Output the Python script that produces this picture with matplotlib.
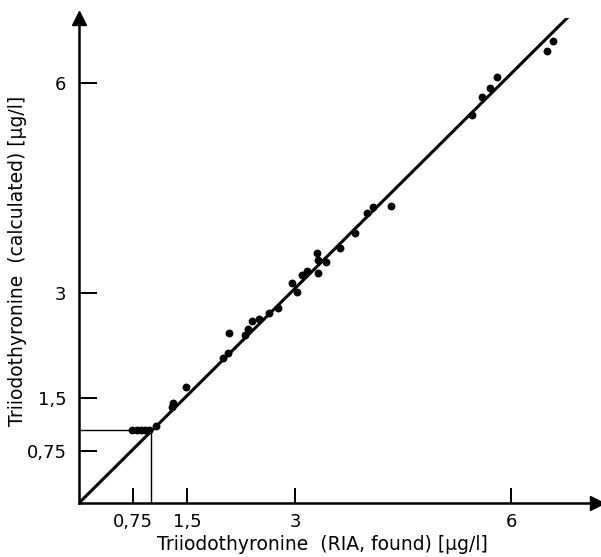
import matplotlib
matplotlib.use("Agg")
import matplotlib.pyplot as plt

# RIA found vs calculated triiodothyronine, ug/l
ria_found = [0.74, 0.81, 0.86, 0.92, 0.97, 1.07, 1.29, 1.31, 1.49,
             2.0, 2.07, 2.08, 2.31, 2.35, 2.40, 2.5, 2.64, 2.76,
             2.96, 3.03, 3.10, 3.17, 3.31, 3.32, 3.32, 3.43, 3.63,
             3.83, 4.0, 4.08, 4.33, 5.46, 5.60, 5.71, 5.81, 6.5, 6.58]
calculated = [1.04, 1.04, 1.04, 1.04, 1.04, 1.10, 1.37, 1.43, 1.66,
              2.07, 2.14, 2.43, 2.40, 2.49, 2.60, 2.63, 2.71, 2.79,
              3.14, 3.01, 3.26, 3.31, 3.57, 3.47, 3.29, 3.44, 3.64,
              3.86, 4.14, 4.23, 4.24, 5.54, 5.80, 5.93, 6.09, 6.46, 6.60]

line_x = [0.0, 6.82]
line_y = [0.0, 6.97]

detect_limit_x = 1.0
detect_limit_y = 1.04

ticks = [0.75, 1.5, 3, 6]
tick_labels = ["0,75", "1,5", "3", "6"]

fig = plt.figure(figsize=(6.01, 5.57), dpi=100)
ax = fig.add_axes([79 / 601, 54 / 557, 518 / 601, 485 / 557])
ax.set_xlim(0, 518 / 72)
ax.set_ylim(0, 485 / 70)

ax.plot(line_x, line_y, color="black", linewidth=2.2, solid_capstyle="butt")
ax.plot([0, detect_limit_x], [detect_limit_y, detect_limit_y], color="black", linewidth=1.0)
ax.plot([detect_limit_x, detect_limit_x], [0, detect_limit_y], color="black", linewidth=1.0)
ax.scatter(ria_found, calculated, s=32, color="black", zorder=3, linewidths=0)

for side in ["top", "right"]:
    ax.spines[side].set_visible(False)
for side in ["left", "bottom"]:
    ax.spines[side].set_linewidth(1.8)

# arrow heads on the axes
ax.plot(1, 0, marker=">", markersize=10, color="black", transform=ax.transAxes, clip_on=False)
ax.plot(0, 1, marker="^", markersize=10, color="black", transform=ax.transAxes, clip_on=False)

ax.set_xticks(ticks)
ax.set_xticklabels(tick_labels, fontsize=13)
ax.set_yticks(ticks)
ax.set_yticklabels(tick_labels, fontsize=13)
ax.tick_params(axis="x", direction="in", length=11, width=1.4, pad=7)
ax.tick_params(axis="y", direction="in", length=13, width=1.4, pad=9)

ax.set_xlabel("Triiodothyronine  (RIA, found) [μg/l]", fontsize=13.5)
ax.set_ylabel("Triiodothyronine  (calculated) [μg/l]", fontsize=13.5)
ax.xaxis.set_label_coords(0.47, -0.066)
ax.yaxis.set_label_coords(-0.10, 0.50)

fig.savefig("out.png", dpi=100)
